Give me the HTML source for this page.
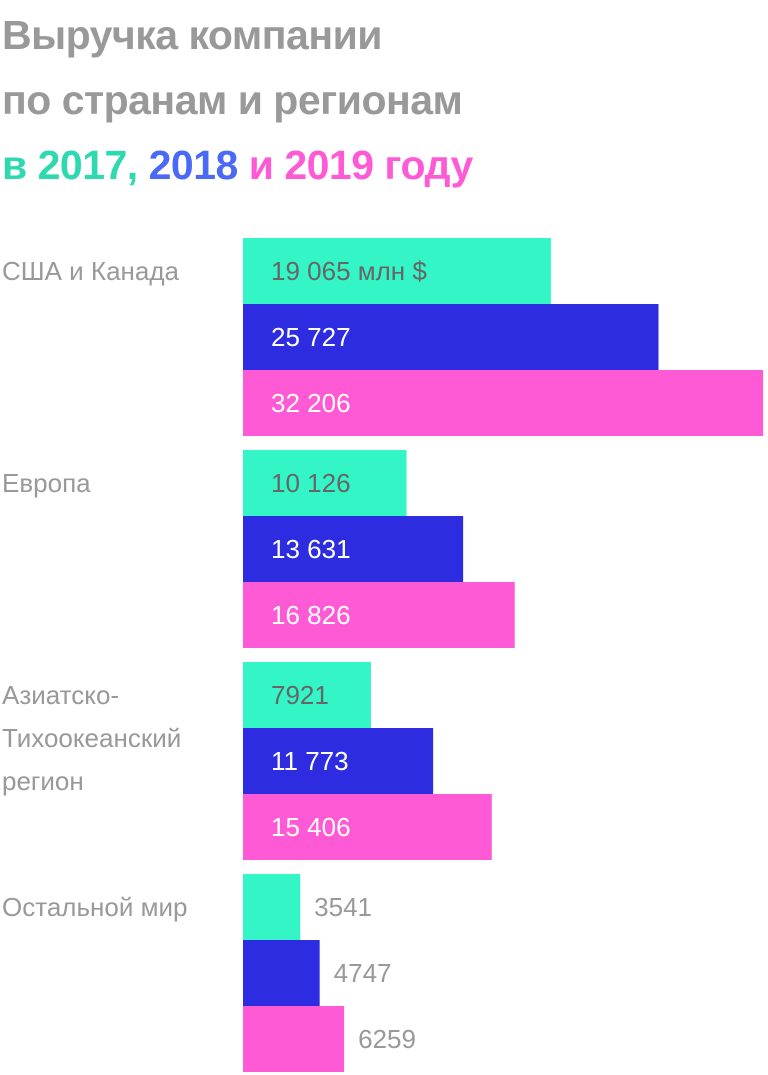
<!DOCTYPE html>
<html><head><meta charset="utf-8"><style>
body{margin:0;width:768px;height:1075px;background:#fff;overflow:hidden;font-family:"Liberation Sans",sans-serif;position:relative}
.t{position:absolute;left:2px;font-weight:bold;font-size:41px;color:#999;white-space:nowrap;letter-spacing:-0.5px}
</style></head><body>
<div class="t" style="top:12px">Выручка компании</div>
<div class="t" style="top:77px">по странам и регионам</div>
<div class="t" style="top:142px"><span style="color:#2ed9b0">в 2017,</span> <span style="color:#4a6af5">2018</span> <span style="color:#ff5ad6">и 2019 году</span></div>
<svg id="chart" width="768" height="1075" style="position:absolute;left:0;top:0"></svg>
<script>
const categories=["США и Канада","Европа","Азиатско-|Тихоокеанский|регион","Остальной мир"];
const v2017=[19065,10126,7921,3541];
const v2018=[25727,13631,11773,4747];
const v2019=[32206,16826,15406,6259];
const labels2017=["19 065 млн $","10 126","7921","3541"];
const labels2018=["25 727","13 631","11 773","4747"];
const labels2019=["32 206","16 826","15 406","6259"];
const svg=document.getElementById('chart');
const NS='http://www.w3.org/2000/svg';
const x0=243, scale=0.01615, top0=238, bh=66, stride=212;
const xs=v=>v*scale;
const series=[[v2017,labels2017,'#33f5c6','#666','y2017'],[v2018,labels2018,'#2d2ce0','#fff','y2018'],[v2019,labels2019,'#ff5ad6','#fff','y2019']];
categories.forEach((c,i)=>{
  const gy=top0+i*stride;
  const lines=c.split('|');
  lines.forEach((ln,k)=>{
    const t=document.createElementNS(NS,'text');
    
    
    t.setAttribute('x',2);t.setAttribute('y',gy+42+k*43);
    t.setAttribute('font-size','26');t.setAttribute('fill','#999');
    t.textContent=ln;svg.appendChild(t);
  });
  series.forEach((s,j)=>{
    const w=xs(s[0][i]);const y=gy+j*bh;
    const r=document.createElementNS(NS,'rect');
    
    
    r.setAttribute('x',x0);r.setAttribute('y',y);r.setAttribute('width',w);r.setAttribute('height',bh);r.setAttribute('fill',s[2]);
    svg.appendChild(r);
    const t=document.createElementNS(NS,'text');
    
    
    const inside=w>110;
    t.setAttribute('x',inside?x0+28:x0+w+14);
    t.setAttribute('y',y+42);t.setAttribute('font-size','26');
    t.setAttribute('fill',inside?s[3]:'#999');
    t.textContent=s[1][i];svg.appendChild(t);
  });
});
</script>
</body></html>
